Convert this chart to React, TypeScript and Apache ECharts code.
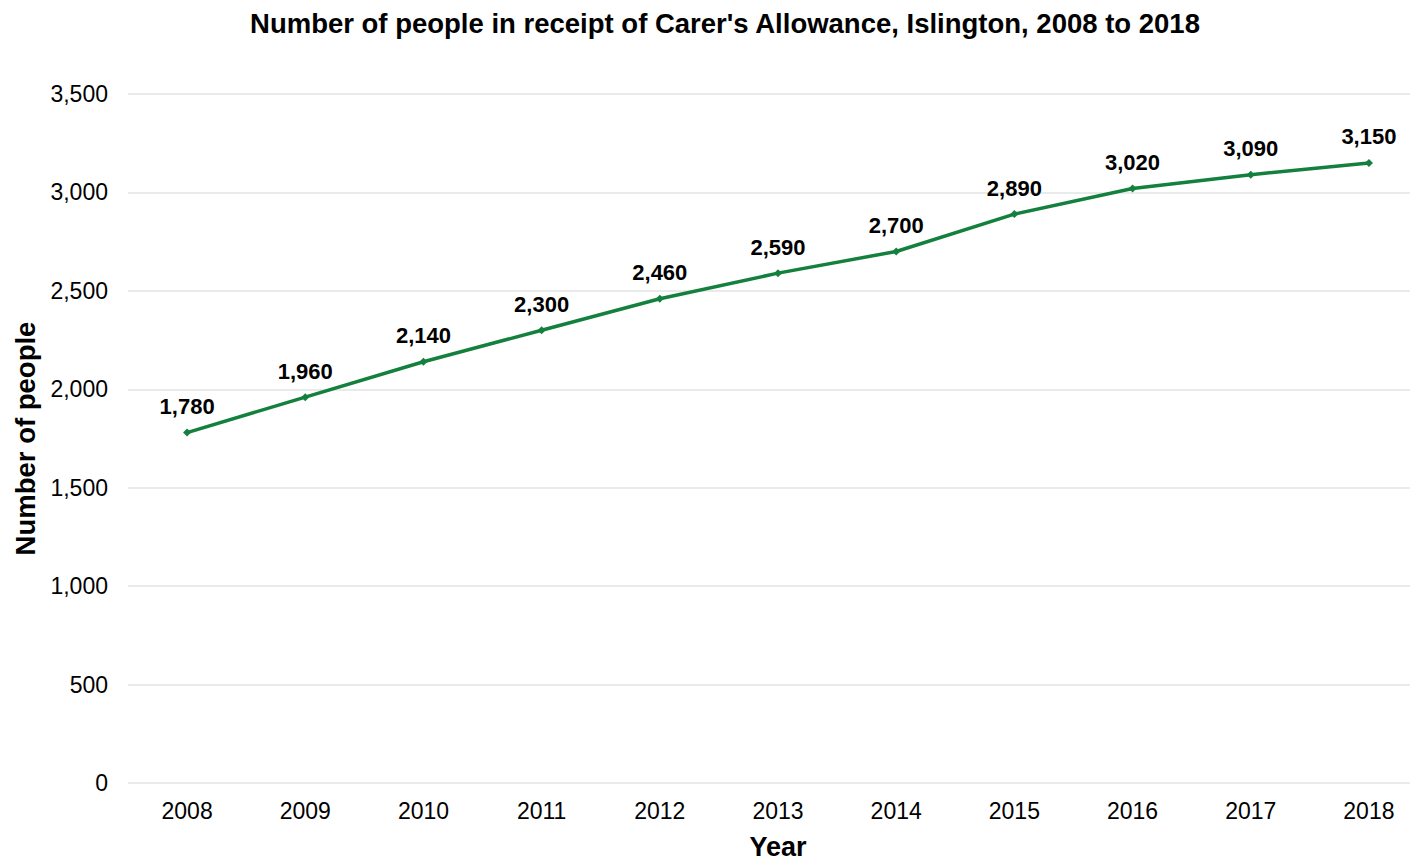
import React, { useEffect, useRef } from "react";
import * as echarts from "echarts";

const years = ["2008", "2009", "2010", "2011", "2012", "2013", "2014", "2015", "2016", "2017", "2018"];
const people = [1780, 1960, 2140, 2300, 2460, 2590, 2700, 2890, 3020, 3090, 3150];
const titleText = "Number of people in receipt of Carer's Allowance, Islington, 2008 to 2018";

const fmt = (v: number) => v.toLocaleString("en-GB");

export default function App() {
  const ref = useRef<HTMLDivElement>(null);
  useEffect(() => {
    if (!ref.current) return;
    const chart = echarts.init(ref.current, undefined, { renderer: "svg" });
    chart.setOption({
      animation: false,
      backgroundColor: "#ffffff",
      textStyle: { fontFamily: "Liberation Sans, Arial, sans-serif" },
      title: {
        text: titleText,
        left: 720,
        textAlign: "center",
        top: 4,
        textStyle: { fontSize: 27.5, fontWeight: "bold", color: "#000", fontFamily: "Liberation Sans, Arial, sans-serif" },
      },
      grid: { left: 128, right: 0, top: 94, bottom: 76, containLabel: false },
      xAxis: {
        type: "category",
        data: years,
        boundaryGap: true,
        axisLine: { show: false },
        axisTick: { show: false },
        axisLabel: { color: "#000", fontSize: 23, margin: 16 },
        name: "Year",
        nameLocation: "middle",
        nameGap: 50,
        nameTextStyle: { fontSize: 27, fontWeight: "bold", color: "#000" },
      },
      yAxis: {
        type: "value",
        min: 0,
        max: 3500,
        interval: 500,
        axisLine: { show: false },
        axisTick: { show: false },
        axisLabel: { color: "#000", fontSize: 23, margin: 20, formatter: (v: number) => fmt(v) },
        splitLine: { lineStyle: { color: "#e3e3e3", width: 1.5 } },
        name: "Number of people",
        nameLocation: "middle",
        nameGap: 86,
        nameRotate: 90,
        nameTextStyle: { fontSize: 27.5, fontWeight: "bold", color: "#000" },
      },
      series: [
        {
          type: "line",
          data: people,
          symbol: "diamond",
          symbolSize: 8,
          lineStyle: { color: "#13803d", width: 3.5 },
          itemStyle: { color: "#13803d" },
          label: {
            show: true,
            position: "top",
            distance: 11,
            fontSize: 22,
            fontWeight: "bold",
            color: "#000",
            formatter: (p: any) => fmt(p.value),
          },
        },
      ],
    });
    return () => chart.dispose();
  }, []);
  return (
    <div style={{ position: "absolute", left: 0, top: 0, width: 1410, height: 865, overflow: "hidden", background: "#fff" }}>
      <div ref={ref} style={{ width: 1428, height: 865 }} />
    </div>
  );
}
